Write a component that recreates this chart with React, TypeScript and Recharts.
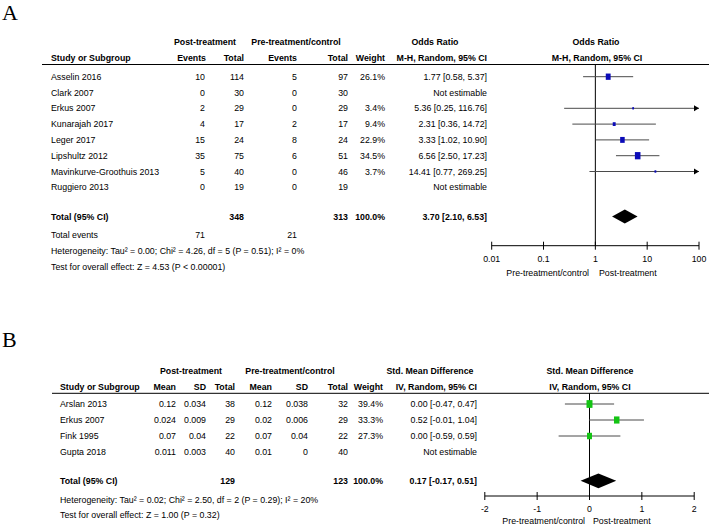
import React from "react";
import { ScatterChart, Scatter, XAxis, YAxis, ReferenceLine, ReferenceArea, ErrorBar } from "recharts";

const FONT = '"Liberation Sans", Arial, sans-serif';
const FS = 8.8;

// ---- Panel A: odds ratio ----
const studiesA = ["Asselin 2016", "Clark 2007", "Erkus 2007", "Kunarajah 2017", "Leger 2017", "Lipshultz 2012", "Mavinkurve-Groothuis 2013", "Ruggiero 2013"];
const postEventsA = [10, 0, 2, 4, 15, 35, 5, 0];
const postTotalA = [114, 30, 29, 17, 24, 75, 40, 19];
const preEventsA = [5, 0, 0, 2, 8, 6, 0, 0];
const preTotalA = [97, 30, 29, 17, 24, 51, 46, 19];
const weightA: (number | null)[] = [26.1, null, 3.4, 9.4, 22.9, 34.5, 3.7, null];
const orA: (number | null)[] = [1.77, null, 5.36, 2.31, 3.33, 6.56, 14.41, null];
const lowerA: (number | null)[] = [0.58, null, 0.25, 0.36, 1.02, 2.5, 0.77, null];
const upperA: (number | null)[] = [5.37, null, 116.76, 14.72, 10.9, 17.23, 269.25, null];
const pooledA = [3.7, 2.1, 6.53];
const ticksA = [0.01, 0.1, 1, 10, 100];
const notesA = [
  "Heterogeneity: Tau² = 0.00; Chi² = 4.26, df = 5 (P = 0.51); I² = 0%",
  "Test for overall effect: Z = 4.53 (P < 0.00001)",
];

// ---- Panel B: std. mean difference ----
const studiesB = ["Arslan 2013", "Erkus 2007", "Fink 1995", "Gupta 2018"];
const postMeanB = [0.12, 0.024, 0.07, 0.011];
const postSdB = [0.034, 0.009, 0.04, 0.003];
const postTotalB = [38, 29, 22, 40];
const preMeanB = [0.12, 0.02, 0.07, 0.01];
const preSdB = [0.038, 0.006, 0.04, 0];
const preTotalB = [32, 29, 22, 40];
const weightB: (number | null)[] = [39.4, 33.3, 27.3, null];
const smdB: (number | null)[] = [0.0, 0.52, 0.0, null];
const lowerB: (number | null)[] = [-0.47, -0.01, -0.59, null];
const upperB: (number | null)[] = [0.47, 1.04, 0.59, null];
const pooledB = [0.17, -0.17, 0.51];
const ticksB = [-2, -1, 0, 1, 2];
const notesB = [
  "Heterogeneity: Tau² = 0.02; Chi² = 2.50, df = 2 (P = 0.29); I² = 20%",
  "Test for overall effect: Z = 1.00 (P = 0.32)",
];

// layout
const ROW0_A = 76.7;
const PITCH_A = 15.8;
const TOTAL_A = 8.85;
const ROW0_B = 404;
const PITCH_B = 16;
const TOTAL_B = 4.8;
const SQUARE_K = 0.95;
const X_MAX_A = 100;

const sum = (a: (number | null)[]) => a.reduce((s: number, v) => s + (v ?? 0), 0);
const f2 = (v: number) => v.toFixed(2);
const ci = (e: number, lo: number, hi: number) => `${f2(e)} [${f2(lo)}, ${f2(hi)}]`;

const pointsA = studiesA
  .map((s, i) =>
    orA[i] == null
      ? null
      : {
          x: orA[i] as number,
          y: i,
          w: weightA[i] as number,
          err: [(orA[i] as number) - (lowerA[i] as number), Math.min(upperA[i] as number, X_MAX_A) - (orA[i] as number)],
        }
  )
  .filter(Boolean) as any[];
const arrowsA = studiesA
  .map((s, i) => (upperA[i] != null && (upperA[i] as number) > X_MAX_A ? { x: X_MAX_A, y: i } : null))
  .filter(Boolean) as any[];

const pointsB = studiesB
  .map((s, i) =>
    smdB[i] == null
      ? null
      : {
          x: smdB[i] as number,
          y: i,
          w: weightB[i] as number,
          err: [(smdB[i] as number) - (lowerB[i] as number), (upperB[i] as number) - (smdB[i] as number)],
        }
  )
  .filter(Boolean) as any[];

const Txt = ({ x, y, a = "end", b = false, size = FS, family = FONT, children }: any) => (
  <text x={x} y={y} textAnchor={a} dominantBaseline="central" fontSize={size} fontWeight={b ? "bold" : "normal"} fontFamily={family} fill="#000">
    {children}
  </text>
);

const AxisTick = (props: any) => {
  const { x, y, payload } = props;
  return (
    <g>
      <line x1={x} x2={x} y1={y - 4} y2={y + 4} stroke="#000" />
      <text x={x} y={y + 13} textAnchor="middle" dominantBaseline="central" fontSize={FS} fontFamily={FONT} fill="#000">
        {String(payload.value)}
      </text>
    </g>
  );
};

const squareShape = (color: string) => (props: any) => {
  const { cx, cy, payload } = props;
  const w = SQUARE_K * Math.sqrt(payload.w);
  const h = w * 1.3;
  return <rect x={cx - w / 2} y={cy - h / 2} width={w} height={h} fill={color} />;
};

const arrowShape = (props: any) => {
  const { cx, cy } = props;
  return <polygon points={`${cx},${cy} ${cx - 5},${cy - 3} ${cx - 5},${cy + 3}`} fill="#000" />;
};

const diamondShape = (props: any) => {
  const x = Number(props.x);
  const y = Number(props.y);
  const w = Math.abs(Number(props.width));
  const h = Math.abs(Number(props.height));
  return <polygon points={`${x},${y + h / 2} ${x + w / 2},${y} ${x + w},${y + h / 2} ${x + w / 2},${y + h}`} fill="#000" />;
};

function ForestA() {
  return (
    <div style={{ position: "absolute", left: 0, top: 0 }}>
      <ScatterChart width={709} height={290} margin={{ top: 64.5, right: 10, left: 491.7, bottom: 14.3 }}>
        <XAxis
          type="number"
          dataKey="x"
          scale="log"
          domain={[0.01, 100]}
          allowDataOverflow
          ticks={ticksA}
          interval={0}
          height={30}
          tickSize={0}
          tickMargin={0}
          tickLine={false}
          axisLine={{ stroke: "#000" }}
          tick={<AxisTick />}
        />
        <YAxis type="number" dataKey="y" domain={[-0.772, 10.696]} reversed allowDataOverflow hide />
        <ReferenceLine x={1} stroke="#000" />
        <ReferenceArea x1={pooledA[1]} x2={pooledA[2]} y1={TOTAL_A - 0.44} y2={TOTAL_A + 0.44} shape={diamondShape} ifOverflow="visible" />
        <Scatter data={pointsA} shape={squareShape("#0b0bb8")} isAnimationActive={false}>
          <ErrorBar dataKey="err" direction="x" width={0} stroke="#4a4a4a" strokeWidth={1} isAnimationActive={false} />
        </Scatter>
        <Scatter data={arrowsA} shape={arrowShape} isAnimationActive={false} />
      </ScatterChart>
    </div>
  );
}

function ForestB() {
  return (
    <div style={{ position: "absolute", left: 0, top: 330 }}>
      <ScatterChart width={709} height={196} margin={{ top: 63.3, right: 14.8, left: 484.8, bottom: 0 }}>
        <XAxis
          type="number"
          dataKey="x"
          domain={[-2, 2]}
          allowDataOverflow
          ticks={ticksB}
          interval={0}
          height={30}
          tickSize={0}
          tickMargin={0}
          tickLine={false}
          axisLine={{ stroke: "#000" }}
          tick={<AxisTick />}
        />
        <YAxis type="number" dataKey="y" domain={[-0.669, 5.75]} reversed allowDataOverflow hide />
        <ReferenceLine x={0} stroke="#000" />
        <ReferenceArea x1={pooledB[1]} x2={pooledB[2]} y1={TOTAL_B - 0.46} y2={TOTAL_B + 0.46} shape={diamondShape} ifOverflow="visible" />
        <Scatter data={pointsB} shape={squareShape("#14c414")} isAnimationActive={false}>
          <ErrorBar dataKey="err" direction="x" width={0} stroke="#4a4a4a" strokeWidth={1} isAnimationActive={false} />
        </Scatter>
      </ScatterChart>
    </div>
  );
}

function TableText() {
  const yA = (i: number) => ROW0_A + i * PITCH_A;
  const yB = (i: number) => ROW0_B + i * PITCH_B;
  const totA = yA(TOTAL_A);
  const totB = yB(TOTAL_B);
  return (
    <svg width={709} height={526} style={{ position: "absolute", left: 0, top: 0, pointerEvents: "none" }}>
      {/* Panel A */}
      <text x={2} y={20} fontSize={22} fontFamily='"Liberation Serif", "Times New Roman", serif' fill="#000">A</text>
      <Txt x={205} y={42} a="middle" b>Post-treatment</Txt>
      <Txt x={296} y={42} a="middle" b>Pre-treatment/control</Txt>
      <Txt x={435} y={42} a="middle" b>Odds Ratio</Txt>
      <Txt x={596} y={42} a="middle" b>Odds Ratio</Txt>
      <Txt x={51} y={58} a="start" b>Study or Subgroup</Txt>
      <Txt x={206} y={58} b>Events</Txt>
      <Txt x={244} y={58} b>Total</Txt>
      <Txt x={297} y={58} b>Events</Txt>
      <Txt x={348} y={58} b>Total</Txt>
      <Txt x={385} y={58} b>Weight</Txt>
      <Txt x={487} y={58} b>M-H, Random, 95% CI</Txt>
      <Txt x={597} y={58} a="middle" b>M-H, Random, 95% CI</Txt>
      <line x1={42} x2={709} y1={64.5} y2={64.5} stroke="#000" />
      {studiesA.map((s, i) => (
        <g key={s}>
          <Txt x={51} y={yA(i)} a="start">{s}</Txt>
          <Txt x={205} y={yA(i)}>{postEventsA[i]}</Txt>
          <Txt x={244} y={yA(i)}>{postTotalA[i]}</Txt>
          <Txt x={297} y={yA(i)}>{preEventsA[i]}</Txt>
          <Txt x={348} y={yA(i)}>{preTotalA[i]}</Txt>
          {weightA[i] != null && <Txt x={385} y={yA(i)}>{`${(weightA[i] as number).toFixed(1)}%`}</Txt>}
          <Txt x={487} y={yA(i)}>
            {orA[i] == null ? "Not estimable" : ci(orA[i] as number, lowerA[i] as number, upperA[i] as number)}
          </Txt>
        </g>
      ))}
      <Txt x={51} y={totA} a="start" b>Total (95% CI)</Txt>
      <Txt x={244} y={totA} b>{sum(postTotalA)}</Txt>
      <Txt x={348} y={totA} b>{sum(preTotalA)}</Txt>
      <Txt x={385} y={totA} b>{`${sum(weightA).toFixed(1)}%`}</Txt>
      <Txt x={487} y={totA} b>{ci(pooledA[0], pooledA[1], pooledA[2])}</Txt>
      <Txt x={51} y={235} a="start">Total events</Txt>
      <Txt x={205} y={235}>{sum(postEventsA)}</Txt>
      <Txt x={297} y={235}>{sum(preEventsA)}</Txt>
      <Txt x={51} y={251} a="start">{notesA[0]}</Txt>
      <Txt x={51} y={267.3} a="start">{notesA[1]}</Txt>
      <Txt x={589} y={272.7}>Pre-treatment/control</Txt>
      <Txt x={599} y={272.7} a="start">Post-treatment</Txt>

      {/* Panel B */}
      <text x={2} y={347} fontSize={22} fontFamily='"Liberation Serif", "Times New Roman", serif' fill="#000">B</text>
      <Txt x={191} y={370.7} a="middle" b>Post-treatment</Txt>
      <Txt x={290} y={370.7} a="middle" b>Pre-treatment/control</Txt>
      <Txt x={430} y={370.7} a="middle" b>Std. Mean Difference</Txt>
      <Txt x={590} y={370.7} a="middle" b>Std. Mean Difference</Txt>
      <Txt x={60} y={386.7} a="start" b>Study or Subgroup</Txt>
      <Txt x={176} y={386.7} b>Mean</Txt>
      <Txt x={206} y={386.7} b>SD</Txt>
      <Txt x={235} y={386.7} b>Total</Txt>
      <Txt x={272} y={386.7} b>Mean</Txt>
      <Txt x={308} y={386.7} b>SD</Txt>
      <Txt x={348} y={386.7} b>Total</Txt>
      <Txt x={383} y={386.7} b>Weight</Txt>
      <Txt x={477} y={386.7} b>IV, Random, 95% CI</Txt>
      <Txt x={590} y={386.7} a="middle" b>IV, Random, 95% CI</Txt>
      <line x1={52} x2={709} y1={393.3} y2={393.3} stroke="#000" />
      {studiesB.map((s, i) => (
        <g key={s}>
          <Txt x={60} y={yB(i)} a="start">{s}</Txt>
          <Txt x={176} y={yB(i)}>{String(postMeanB[i])}</Txt>
          <Txt x={206} y={yB(i)}>{String(postSdB[i])}</Txt>
          <Txt x={235} y={yB(i)}>{postTotalB[i]}</Txt>
          <Txt x={272} y={yB(i)}>{String(preMeanB[i])}</Txt>
          <Txt x={308} y={yB(i)}>{String(preSdB[i])}</Txt>
          <Txt x={348} y={yB(i)}>{preTotalB[i]}</Txt>
          {weightB[i] != null && <Txt x={383} y={yB(i)}>{`${(weightB[i] as number).toFixed(1)}%`}</Txt>}
          <Txt x={477} y={yB(i)}>
            {smdB[i] == null ? "Not estimable" : ci(smdB[i] as number, lowerB[i] as number, upperB[i] as number)}
          </Txt>
        </g>
      ))}
      <Txt x={60} y={totB} a="start" b>Total (95% CI)</Txt>
      <Txt x={235} y={totB} b>{sum(postTotalB)}</Txt>
      <Txt x={348} y={totB} b>{sum(preTotalB)}</Txt>
      <Txt x={383} y={totB} b>{`${sum(weightB).toFixed(1)}%`}</Txt>
      <Txt x={477} y={totB} b>{ci(pooledB[0], pooledB[1], pooledB[2])}</Txt>
      <Txt x={60} y={500} a="start">{notesB[0]}</Txt>
      <Txt x={60} y={515} a="start">{notesB[1]}</Txt>
      <Txt x={585} y={521.2}>Pre-treatment/control</Txt>
      <Txt x={593} y={521.2} a="start">Post-treatment</Txt>
    </svg>
  );
}

export default function App() {
  return (
    <div style={{ position: "fixed", left: 0, top: 0, width: 709, height: 526, background: "#fff", overflow: "hidden" }}>
      <ForestA />
      <ForestB />
      <TableText />
    </div>
  );
}
